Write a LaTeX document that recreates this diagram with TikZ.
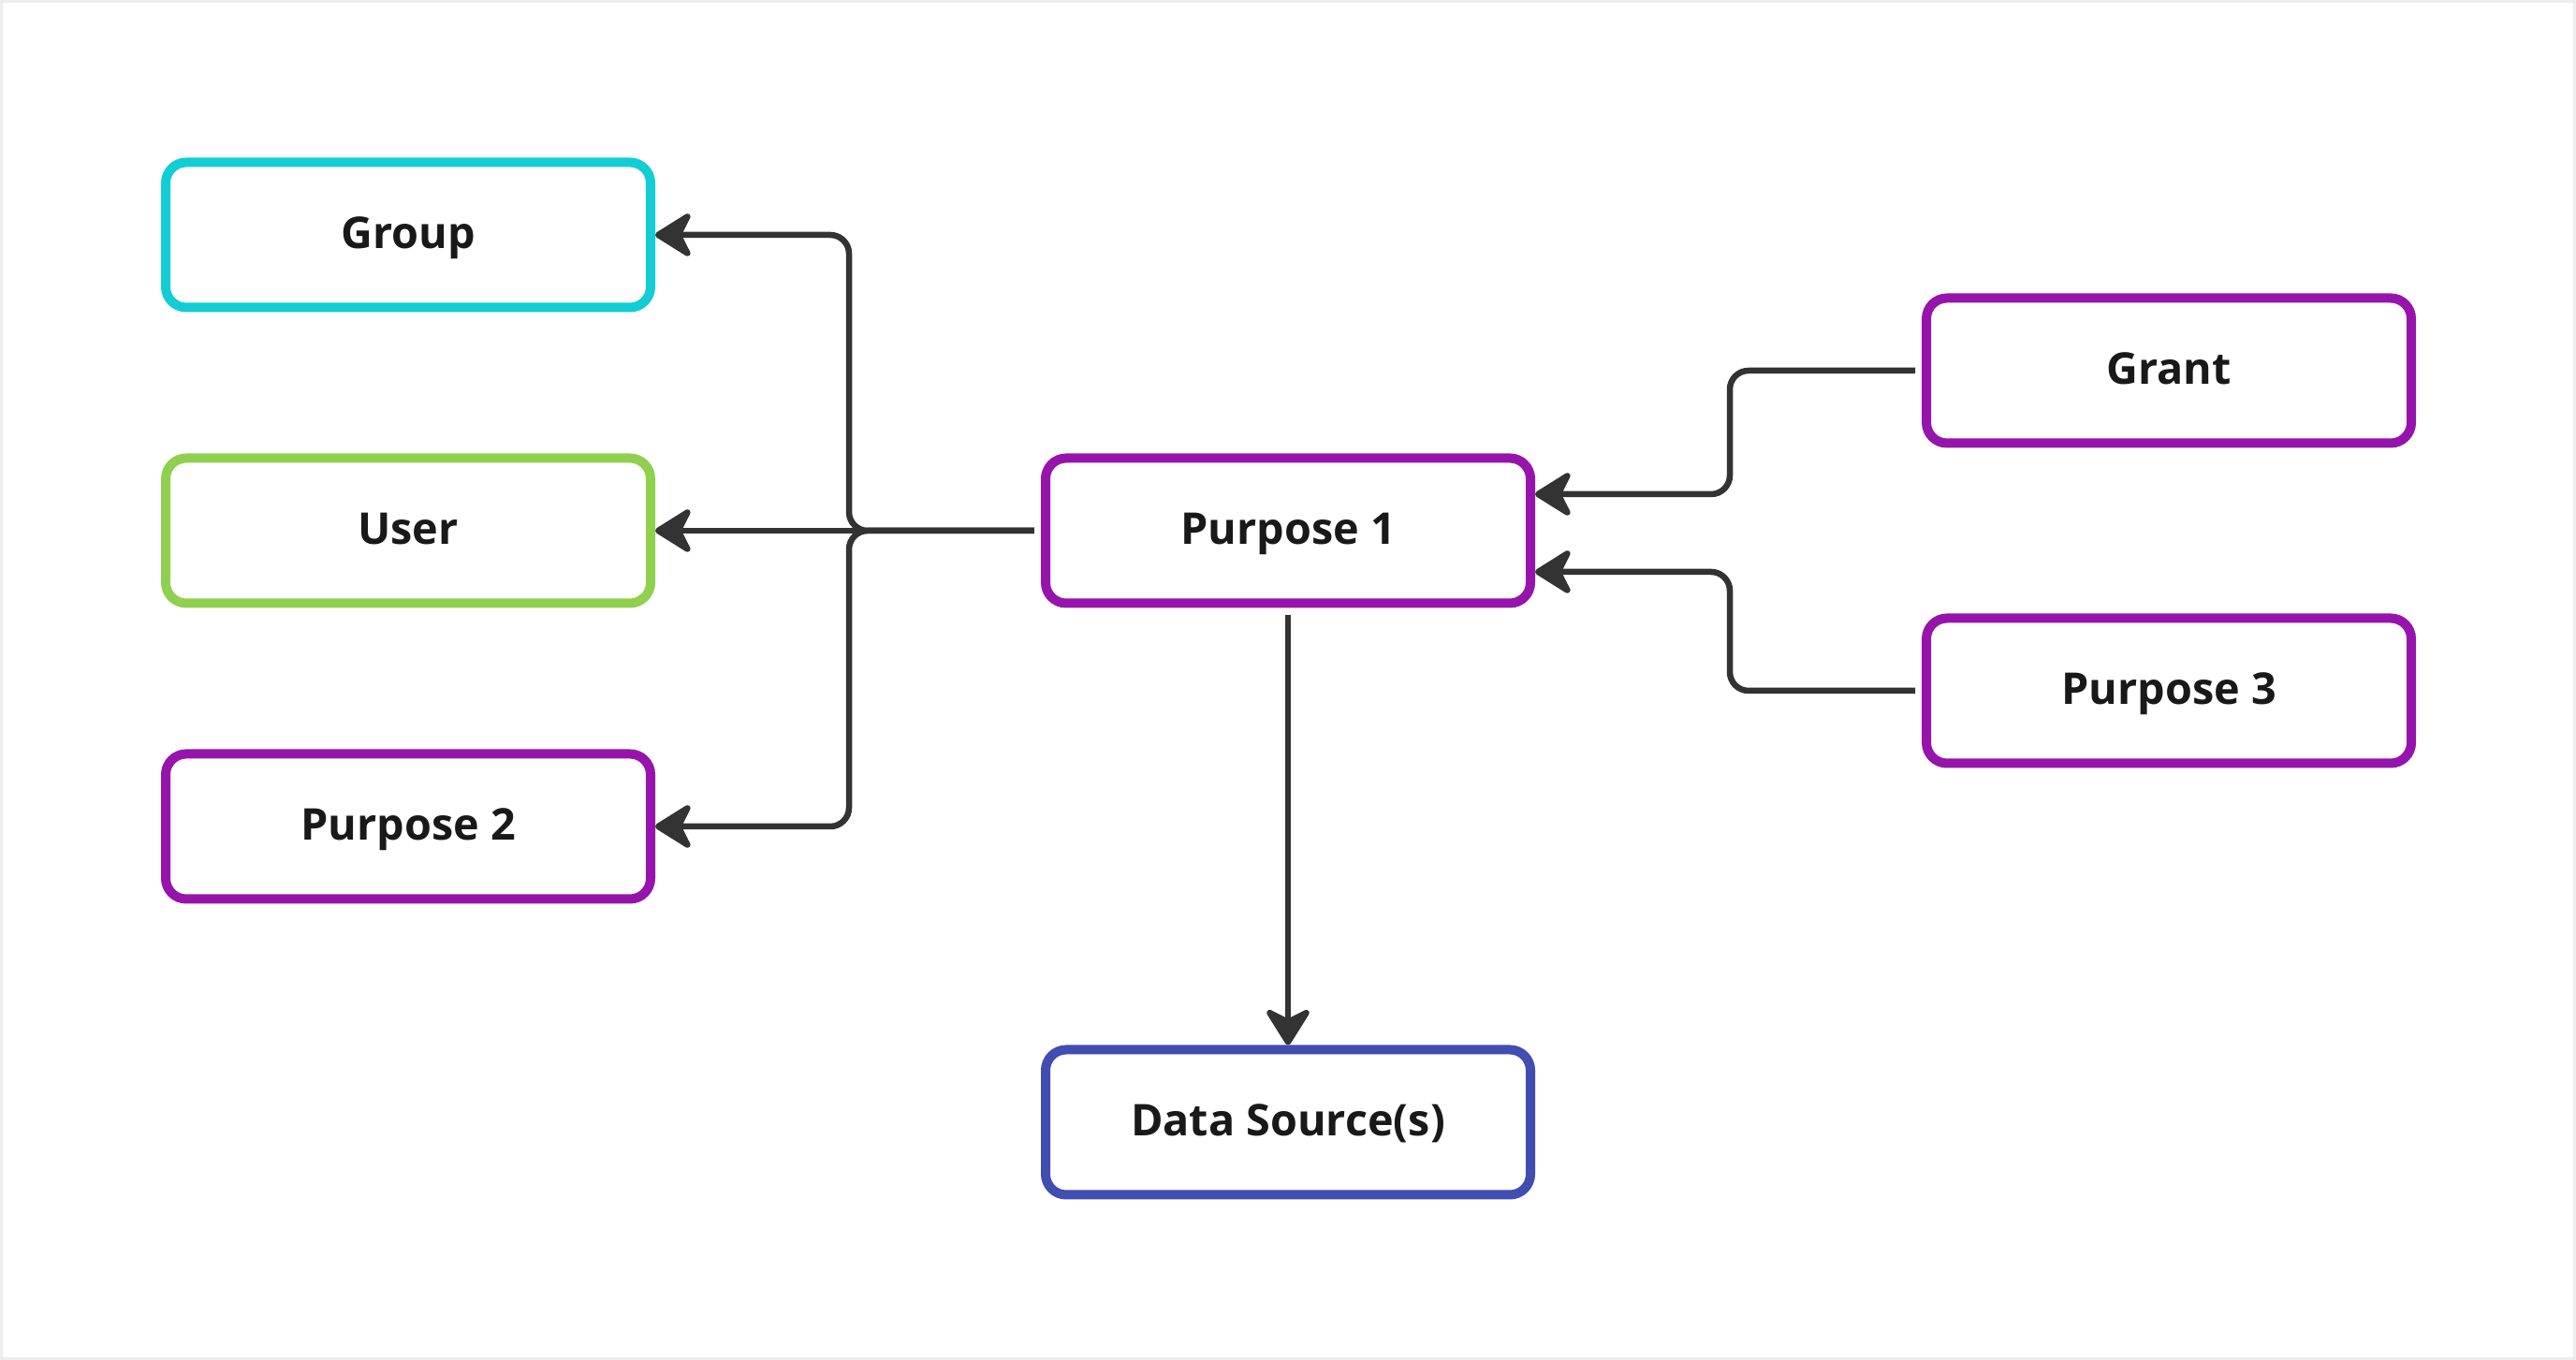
\documentclass[tikz,border=0pt]{standalone}
\usepackage{fontspec}
\setmainfont{Open Sans}
\usetikzlibrary{arrows.meta}
\definecolor{groupcyan}{HTML}{13CDD4}
\definecolor{usergreen}{HTML}{8FD14F}
\definecolor{purposeviolet}{HTML}{9614AC}
\definecolor{sourceblue}{HTML}{424DB1}
\definecolor{linkgrey}{HTML}{333333}
\tikzset{
	entity/.style={draw, line width=0.10cm, rounded corners=0.22cm, fill=white,
		minimum width=5.18cm, minimum height=1.55cm, text=black!90,
		text height=1.05em, text depth=0.24em,
		font=\fontsize{13.3}{16}\selectfont\bfseries},
	link/.style={draw=linkgrey, line width=0.065cm, rounded corners=0.2cm,
		-{Stealth[length=4.5mm, width=5.6mm, inset=1.4mm, round]}},
}

\begin{document}
\begin{tikzpicture}
				\useasboundingbox (0,0) rectangle (27.52,14.53);
				\draw[black!7, line width=0.03cm] (0.015,0.015) rectangle (27.505,14.515);
				
				\node[entity, draw=groupcyan] (Group) at (4.36,12.02) {Group};
				\node[entity, draw=usergreen] (User) at (4.36,8.86) {User};
				\node[entity, draw=purposeviolet] (P2) at (4.36,5.70) {Purpose 2};
				
				\node[entity, draw=purposeviolet] (P1) at (13.76,8.86) {Purpose 1};
				\node[entity, draw=sourceblue] (Source) at (13.76,2.54) {Data Source(s)};
				
				\node[entity, draw=purposeviolet] (Grant) at (23.17,10.57) {Grant};
				\node[entity, draw=purposeviolet] (P3) at (23.17,7.15) {Purpose 3};
				
				\coordinate (leftbus) at (9.07,0);
				\coordinate (rightbus) at (18.48,0);
				
				\draw[link] ([xshift=-2pt]P1.west) -- (P1.west -| leftbus) |- (Group.east);
				\draw[link] ([xshift=-2pt]P1.west) -- (User.east);
				\draw[link] ([xshift=-2pt]P1.west) -- (P1.west -| leftbus) |- (P2.east);
				
				\draw[link] ([xshift=-2pt]Grant.west) -- (Grant.west -| rightbus) |- ([yshift=0.39cm]P1.east);
				\draw[link] ([xshift=-2pt]P3.west) -- (P3.west -| rightbus) |- ([yshift=-0.44cm]P1.east);
				
				\draw[link] ([yshift=-2pt]P1.south) -- (Source.north);
			\end{tikzpicture}
\end{document}
